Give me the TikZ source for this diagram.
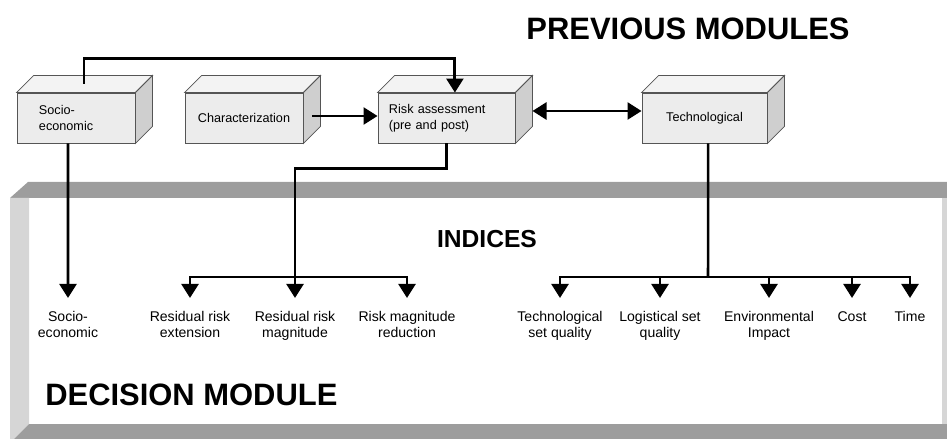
\documentclass[tikz,border=0pt]{standalone}
\usepackage{fontspec}
\setmainfont{Liberation Sans}
\usetikzlibrary{arrows.meta}

\definecolor{frontgray}{HTML}{ECECEC}
\definecolor{topgray}{HTML}{F3F3F3}
\definecolor{sidegray}{HTML}{CFCFCF}
\definecolor{edgegray}{HTML}{555555}
\definecolor{bandgray}{HTML}{9D9D9D}
\definecolor{wallgray}{HTML}{D6D6D6}

\begin{document}
\begin{tikzpicture}[x=0.025cm, y=-0.025cm,
	conn/.style={line width=2.1pt, -{Triangle[length=10pt,width=12pt]}},
	conn2/.style={line width=2.1pt, {Triangle[length=10pt,width=12pt]}-{Triangle[length=10pt,width=12pt]}},
	trunk/.style={line width=1.8pt},
	edge/.style={draw=edgegray, line width=0.6pt},
	cube/.style={edge, fill=frontgray, minimum height=1.25cm, inner ysep=0pt, font=\fontsize{9}{11}\selectfont},
	index/.style={align=center, anchor=north, inner ysep=9pt, font=\fontsize{10}{11.5}\selectfont,
		execute at begin node={\rule{0pt}{7.5pt}}}]
	\useasboundingbox (0,0) rectangle (947,439);

	\coordinate (LB) at (0,277); % left bar y
	\coordinate (RB) at (708,277); % right bar

	% decision module frame
	\fill[bandgray] (10,198) -- (28,182) -- (947,182) -- (947,198) -- cycle;
	\fill[wallgray] (10,198) -- (29,198) -- (29,424) -- (14,439) -- (10,439) -- cycle;
	\fill[bandgray] (29,424) -- (947,424) -- (947,439) -- (14,439) -- cycle;
	\fill[wallgray] (942,198) rectangle (947,424);

	\node[font=\fontsize{22}{26}\selectfont\bfseries] (PM) at (688,29) {PREVIOUS MODULES};
	\node[font=\fontsize{17.5}{21}\selectfont\bfseries] (IN) at (487,239) {INDICES};
	\node[font=\fontsize{22}{26}\selectfont\bfseries, anchor=west, inner sep=0pt] (DM) at (45,395) {DECISION MODULE};

	% previous modules
	\node[cube, text width=1.85cm, inner xsep=0.55cm, align=left] (SOC) at (76,118) {Socio-\\economic};
	\node[cube, text width=2.95cm, inner xsep=0pt, align=center] (CHR) at (244,118) {Characterization};
	\node[cube, text width=2.875cm, inner xsep=0.275cm, align=left] (RSK) at (446.5,118) {Risk assessment\\(pre and post)};
	\node[cube, text width=3.125cm, inner xsep=0pt, align=center] (TEC) at (704.5,118) {Technological};

	\foreach \b in {SOC,CHR,RSK,TEC}{
		\draw[edge, fill=topgray] (\b.north west) -- ++(17,-17) -- ([shift={(17,-17)}]\b.north east) -- (\b.north east) -- cycle;
		\draw[edge, fill=sidegray] (\b.north east) -- ++(17,-17) -- ([shift={(17,-17)}]\b.south east) -- (\b.south east) -- cycle;
	}

	% indices
	\node[index] (ISOC) at (68,298) {Socio-\\economic};
	\node[index] (IEXT) at (190,298) {Residual risk\\extension};
	\node[index] (IMAG) at (295,298) {Residual risk\\magnitude};
	\node[index] (IRED) at (407,298) {Risk magnitude\\reduction};
	\node[index] (ITSQ) at (560,298) {Technological\\set quality};
	\node[index] (ILSQ) at (660,298) {Logistical set\\quality};
	\node[index] (IENV) at (769,298) {Environmental\\Impact};
	\node[index] (ICOS) at (852,298) {Cost};
	\node[index] (ITIM) at (910,298) {Time};

	% connectors
	\draw[conn] ([shift={(0.2cm,0.225cm)}]SOC.north) -- ++(0,-25) -| ([xshift=0.21cm]RSK.north);
	\draw[conn] ([shift={(0.225cm,0.05cm)}]CHR.east) -- ([yshift=0.05cm]RSK.west);
	\draw[conn2] ([shift={(0.425cm,0.175cm)}]RSK.east) -- ([yshift=0.175cm]TEC.west);

	\draw[conn] ([xshift=-0.2cm]SOC.south) -- (ISOC.north);
	\draw[conn] (RSK.south) -- ++(0,25) -| (IMAG.north);
	\draw[conn2] (IEXT.north) -- (IEXT.north |- LB) -| (IRED.north);

	\draw[trunk] ([xshift=0.09cm]TEC.south) -- (RB);
	\draw[conn2] (ITSQ.north) -- (ITSQ.north |- RB) -| (ITIM.north);
	\foreach \n in {ILSQ,IENV,ICOS}
		\draw[conn] (\n.north |- RB) -- (\n.north);
\end{tikzpicture}
\end{document}
